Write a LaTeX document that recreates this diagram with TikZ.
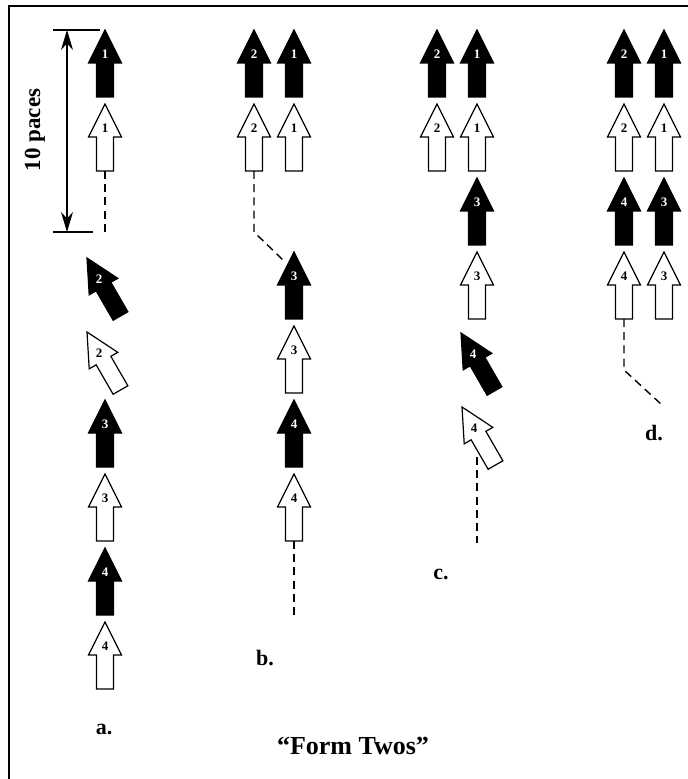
\documentclass[tikz,border=0pt]{standalone}
\usepackage{fontspec}
\setmainfont{Liberation Serif}
\usetikzlibrary{arrows.meta}

\tikzset{
	pfeil/.style={line width=0.6pt, draw=black},
	nummer/.style={font=\fontsize{6.5}{7}\selectfont\bfseries, inner sep=0pt},
	spur/.style={line width=0.7pt, dash pattern=on 4pt off 2.6pt},
	etikett/.style={font=\fontsize{11}{13}\selectfont\bfseries, inner sep=0pt},
	pics/schwarz/.style={code={
		\filldraw[pfeil, fill=black] (0,0) -- (16.5,33) -- (8.5,33) -- (8.5,67)
		-- (-8.5,67) -- (-8.5,33) -- (-16.5,33) -- cycle;
		\coordinate (-ende) at (0,67);
		\node[nummer, text=white] (-nr) at (0,24) {#1};
	}},
	pics/weiss/.style={code={
		\filldraw[pfeil, fill=white] (0,0) -- (16.5,33) -- (8.5,33) -- (8.5,67)
		-- (-8.5,67) -- (-8.5,33) -- (-16.5,33) -- cycle;
		\coordinate (-ende) at (0,67);
		\node[nummer, text=black] (-nr) at (0,24) {#1};
	}}
}

\begin{document}
\begin{tikzpicture}[x=0.5pt, y=-0.5pt]
	\useasboundingbox (0,0) rectangle (687,779);
	% Rahmen
	\draw[line width=1.2pt] (9,6) rectangle (700,800);

	% Abstand oben
	\coordinate (oben) at (67,30);
	\coordinate (unten) at (67,232);
	\draw[line width=0.6pt] (53,30) -- (100,30);
	\draw[line width=0.6pt] (53,232) -- (93,232);
	\draw[line width=0.6pt, {Stealth[length=10pt, width=6pt]}-{Stealth[length=10pt,
	width=6pt]}] (oben) -- (unten);
	\node[rotate=90, font=\fontsize{11.5}{13}\selectfont\bfseries] (abstand) at (35,130)
	{10 paces};

	% Spalte a
	\foreach \nr/\y in {1/30,3/400,4/548} {
		\pic (a\nr s) at (105,\y) {schwarz=\nr};
		\pic (a\nr w) at (105,\y+74) {weiss=\nr};
	}
	\pic[rotate=30] (a2s) at (87,258) {schwarz=2};
	\pic[rotate=30] (a2w) at (87,332) {weiss=2};
	\coordinate (a-spur) at (105,232);
	\draw[spur] (a1w-ende) -- (a-spur);
	\node[etikett] (a) at (104,729) {a.};

	% Spalte b
	\foreach \nr/\x in {2/254,1/294} {
		\pic (b\nr s) at (\x,30) {schwarz=\nr};
		\pic (b\nr w) at (\x,104) {weiss=\nr};
	}
	\foreach \nr/\y in {3/252,4/400} {
		\pic (b\nr s) at (294,\y) {schwarz=\nr};
		\pic (b\nr w) at (294,\y+74) {weiss=\nr};
	}
	\coordinate (b-knick) at (254,232);
	\coordinate (b-ziel) at (285,262);
	\coordinate (b-spur) at (294,620);
	\draw[spur] (b2w-ende) -- (b-knick) -- (b-ziel);
	\draw[spur] (b4w-ende) -- (b-spur);
	\node[etikett] (b) at (265,658) {b.};

	% Spalte c
	\foreach \nr/\x in {2/437,1/477} {
		\pic (c\nr s) at (\x,30) {schwarz=\nr};
		\pic (c\nr w) at (\x,104) {weiss=\nr};
	}
	\pic (c3s) at (477,178) {schwarz=3};
	\pic (c3w) at (477,252) {weiss=3};
	\pic[rotate=30] (c4s) at (461,333) {schwarz=4};
	\pic[rotate=30] (c4w) at (462,407) {weiss=4};
	\coordinate (c-start) at (477,457);
	\coordinate (c-spur) at (477,543);
	\draw[spur] (c-start) -- (c-spur);
	\node[etikett] (c) at (441,574) {c.};

	% Spalte d
	\foreach \nr/\x in {2/624,1/664} {
		\pic (d\nr s) at (\x,30) {schwarz=\nr};
		\pic (d\nr w) at (\x,104) {weiss=\nr};
	}
	\foreach \nr/\x in {4/624,3/664} {
		\pic (d\nr s) at (\x,178) {schwarz=\nr};
		\pic (d\nr w) at (\x,252) {weiss=\nr};
	}
	\coordinate (d-knick) at (624,370);
	\coordinate (d-spur) at (662,405);
	\draw[spur] (d4w-ende) -- (d-knick) -- (d-spur);
	\node[etikett] (d) at (654,433) {d.};

	% Titel
	\node[font=\fontsize{13}{15}\selectfont\bfseries] (titel) at (353,746)
	{``Form Twos''};
\end{tikzpicture}
\end{document}
